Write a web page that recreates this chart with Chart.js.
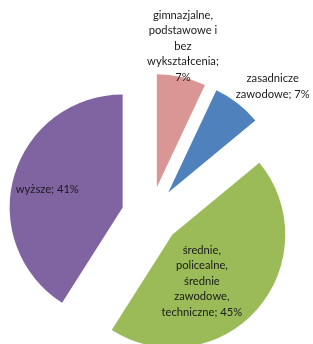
<!DOCTYPE html>
<html>
<head>
<meta charset="utf-8">
<script src="https://cdn.jsdelivr.net/npm/chart.js@4.4.1/dist/chart.umd.min.js"></script>
<style>
  html, body { margin: 0; padding: 0; background: #fff; }
  canvas { display: block; }
</style>
</head>
<body>
<canvas id="eduChart" width="313" height="344"></canvas>
<script>
// Data
const categories = [
    'gimnazjalne, podstawowe i bez wykształcenia',
    'zasadnicze zawodowe',
    'średnie, policealne, średnie zawodowe, techniczne',
    'wyższe'
];
const shares = [7, 7, 45, 41];

// Styling
const sliceColors = ['#D99694', '#4F81BD', '#9BBB59', '#8064A2'];
const explode = [29, 29, 29, 29];                 // px each slice is pulled out
const labelPos = [[1.269, 10.5], [1.317, 44.6], [0.488, 147.5], [0.686, 283.6]]; // [radius factor, deg from top]
const labelWrap = [78, 75, 85, 200];              // max line width of each label
const LINE_H = 15.5;

function wrapText(ctx, text, maxWidth) {
    const words = text.split(' ');
    const lines = [];
    let cur = '';
    words.forEach(w => {
        const test = cur ? cur + ' ' + w : w;
        if (cur && ctx.measureText(test).width > maxWidth) {
            lines.push(cur);
            cur = w;
        } else {
            cur = test;
        }
    });
    if (cur) lines.push(cur);
    return lines;
}

// Draw each slice pulled out along its middle angle
const explodePlugin = {
    id: 'explodeSlices',
    beforeDatasetDraw(chart, args) {
        const ctx = chart.ctx;
        args.meta.data.forEach((arc, i) => {
            const mid = (arc.startAngle + arc.endAngle) / 2;
            ctx.save();
            ctx.translate(Math.cos(mid) * explode[i], Math.sin(mid) * explode[i]);
            arc.draw(ctx);
            ctx.restore();
        });
        return false;
    }
};

// Data labels "name; value%"
const labelPlugin = {
    id: 'sliceLabels',
    afterDatasetsDraw(chart) {
        const ctx = chart.ctx;
        const meta = chart.getDatasetMeta(0);
        ctx.save();
        ctx.font = '11.2px Lato';
        ctx.fillStyle = '#1a1a1a';
        ctx.textAlign = 'center';
        ctx.textBaseline = 'middle';
        meta.data.forEach((arc, i) => {
            const mid = (arc.startAngle + arc.endAngle) / 2;
            const ax = arc.x + Math.cos(mid) * explode[i];
            const ay = arc.y + Math.sin(mid) * explode[i];
            const [f, deg] = labelPos[i];
            const a = (deg - 90) * Math.PI / 180;
            const cx = ax + Math.cos(a) * f * arc.outerRadius;
            const cy = ay + Math.sin(a) * f * arc.outerRadius;
            const lines = wrapText(ctx, `${categories[i]}; ${shares[i]}%`, labelWrap[i]);
            lines.forEach((ln, k) => {
                ctx.fillText(ln, cx, cy + (k - (lines.length - 1) / 2) * LINE_H);
            });
        });
        ctx.restore();
    }
};

const ctx = document.getElementById('eduChart').getContext('2d');
new Chart(ctx, {
    type: 'pie',
    data: {
        labels: categories,
        datasets: [{
            data: shares,
            backgroundColor: sliceColors,
            borderWidth: 0,
            radius: 113
        }]
    },
    options: {
        responsive: false,
        animation: false,
        layout: { padding: { left: 0, right: 12, top: 87, bottom: 0 } },
        plugins: {
            legend: { display: false },
            tooltip: { enabled: false }
        }
    },
    plugins: [explodePlugin, labelPlugin]
});
</script>
</body>
</html>
